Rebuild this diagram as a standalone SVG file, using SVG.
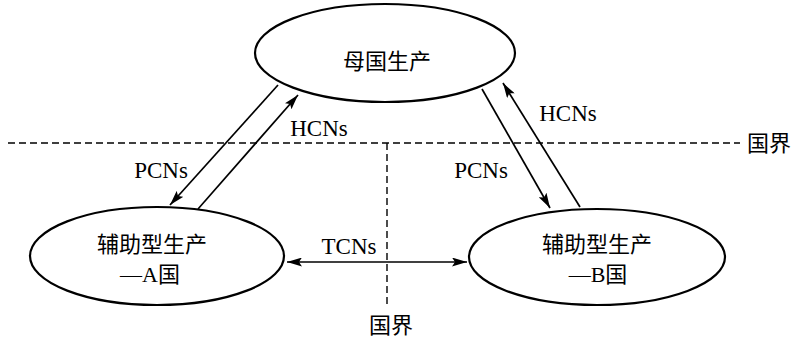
<svg xmlns="http://www.w3.org/2000/svg" width="799" height="340" viewBox="0 0 799 340">
<style>
.node{fill:#fff;stroke:#000;stroke-width:2.2}
.t{font-family:"Liberation Serif","Noto Sans CJK SC",serif;font-size:22px;fill:#000;text-anchor:middle;dominant-baseline:central}
.l{font-size:23px}
.c{stroke:#000;stroke-width:1.7;fill:none}
.d{stroke:#000;stroke-width:1.4;fill:none;stroke-dasharray:7 4}
</style>
<defs>
<marker id="ah" viewBox="0 0 15 9" refX="15" refY="4.5" markerWidth="15" markerHeight="9" markerUnits="userSpaceOnUse" orient="auto-start-reverse">
<path d="M0,0 L15,4.5 L0,9 L3,4.5 Z" fill="#000"/>
</marker>
</defs>
<g id="borders">
<line class="d" x1="8" y1="143" x2="740" y2="143"/>
<line class="d" x1="387" y1="143" x2="387" y2="305"/>
<text class="t" x="769" y="143">国界</text>
<text class="t" x="391" y="325">国界</text>
</g>
<g id="connectors">
<line class="c" x1="278" y1="85" x2="170" y2="205" marker-end="url(#ah)"/>
<line class="c" x1="198" y1="209" x2="298" y2="95" marker-end="url(#ah)"/>
<line class="c" x1="482" y1="89" x2="550" y2="208" marker-end="url(#ah)"/>
<line class="c" x1="580" y1="207" x2="503" y2="83" marker-end="url(#ah)"/>
<line class="c" x1="287" y1="262" x2="467" y2="262" marker-start="url(#ah)" marker-end="url(#ah)"/>
<text class="t l" x="319" y="128">HCNs</text>
<text class="t l" x="161" y="170">PCNs</text>
<text class="t l" x="481" y="170">PCNs</text>
<text class="t l" x="568" y="113">HCNs</text>
<text class="t l" x="349" y="246">TCNs</text>
</g>
<g id="home">
<ellipse class="node" cx="385" cy="53" rx="130" ry="49"/>
<text class="t" x="387" y="61">母国生产</text>
</g>
<g id="countryA">
<ellipse class="node" cx="157" cy="256" rx="127" ry="49"/>
<text class="t" x="152" y="244">辅助型生产</text>
<text class="t" x="150" y="274">—A国</text>
</g>
<g id="countryB">
<ellipse class="node" cx="597" cy="257" rx="128" ry="48"/>
<text class="t" x="597" y="244">辅助型生产</text>
<text class="t" x="598" y="274">—B国</text>
</g>
</svg>
